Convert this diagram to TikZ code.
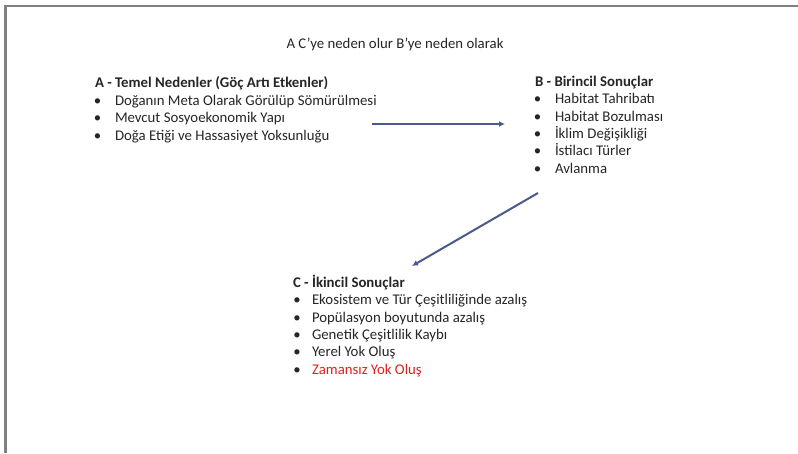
\documentclass[tikz,border=0pt]{standalone}
\usepackage{fontspec}
\setmainfont{Carlito}
\usetikzlibrary{arrows.meta}
\definecolor{arrowblue}{HTML}{4A5A8C}
\definecolor{framegray}{HTML}{808080}
\definecolor{txt}{HTML}{262626}
\definecolor{redtxt}{HTML}{E02020}
\begin{document}
\begin{tikzpicture}[x=1pt,y=-1pt,
  every node/.style={inner sep=0pt,outer sep=0pt,text=txt,text height=10pt,text depth=3pt,font=\fontsize{14.8}{17}\selectfont},
  hdr/.style={anchor=west,font=\fontsize{14.8}{17}\selectfont\bfseries},
  itm/.style={anchor=west},
  bul/.style={anchor=center},
  conn/.style={draw=arrowblue,line width=2pt,-{Latex[length=6pt,width=6pt]}}]
\useasboundingbox (0,0) rectangle (798,453);
\fill[white] (0,0) rectangle (798,453);
\draw[framegray,line width=2.5pt] (5.5,453) -- (5.5,6) -- (798,6);
\node (title) at (395,45) {A C'ye neden olur B'ye neden olarak};
% A
\node[hdr] (ah) at (95,84) {A - Temel Nedenler (Göç Artı Etkenler)};
\foreach \t [count=\i] in {Doğanın Meta Olarak Görülüp Sömürülmesi,Mevcut Sosyoekonomik Yapı,Doğa Etiği ve Hassasiyet Yoksunluğu}{
  \node[bul] (ab\i) at (97.5,{84+17.5*\i}) {•};
  \node[itm] (a\i) at (115,{84+17.5*\i}) {\t};
}
% B
\node[hdr] (bh) at (535,83) {B - Birincil Sonuçlar};
\foreach \t [count=\i] in {Habitat Tahribatı,Habitat Bozulması,İklim Değişikliği,İstilacı Türler,Avlanma}{
  \node[bul] (bb\i) at (537.5,{83+17.3*\i}) {•};
  \node[itm] (b\i) at (555,{83+17.3*\i}) {\t};
}
% C
\node[hdr] (ch) at (293,284) {C - İkincil Sonuçlar};
\foreach \t [count=\i] in {Ekosistem ve Tür Çeşitliliğinde azalış,Popülasyon boyutunda azalış,Genetik Çeşitlilik Kaybı,Yerel Yok Oluş}{
  \node[bul] (cb\i) at (297,{284+17.3*\i}) {•};
  \node[itm] (c\i) at (312,{284+17.3*\i}) {\t};
}
\node[bul] (cb5) at (297,370.5) {•};
\node[itm,text=redtxt] (c5) at (312,370.5) {Zamansız Yok Oluş};
% arrows
\coordinate (p1) at (372,124);
\coordinate (p2) at (505,124);
\coordinate (q1) at (538,193);
\coordinate (q2) at (412,266);
\draw[conn] (p1) -- (p2);
\draw[conn] (q1) -- (q2);
\end{tikzpicture}
\end{document}
